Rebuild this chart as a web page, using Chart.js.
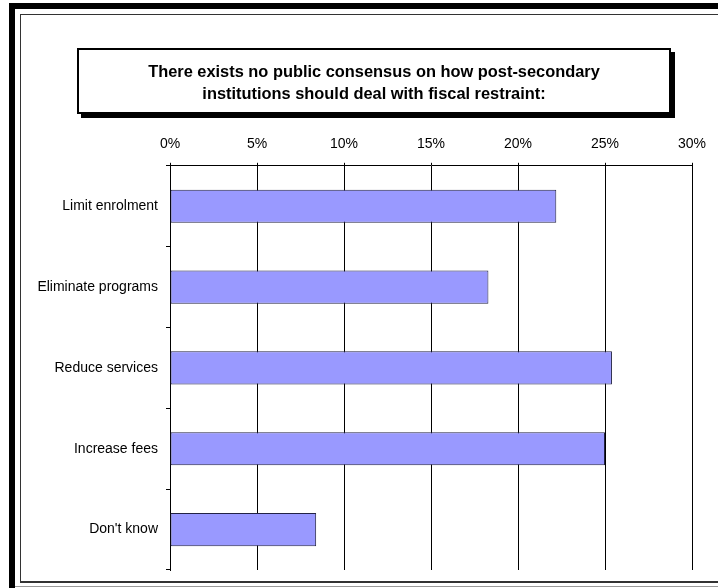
<!DOCTYPE html>
<html>
<head>
<meta charset="utf-8">
<title>Fiscal restraint survey</title>
<script src="https://cdn.jsdelivr.net/npm/chart.js"></script>
<style>
  html, body { margin:0; padding:0; background:#fff; }
  body { width:718px; height:588px; position:relative; overflow:hidden; font-family: Arial, "Liberation Sans", sans-serif; }
  #frameOuter { position:absolute; left:9px; top:3px; width:760px; height:640px; border-left:6px solid #000; border-top:6px solid #000; }
  #frameInner { position:absolute; left:20px; top:14px; width:760px; height:566px; border:1px solid #333; border-bottom-width:2px; }
  #frameShadow { position:absolute; left:15px; top:586px; width:760px; height:1px; background:#999; }
  #titleBox { position:absolute; left:77px; top:48px; width:590px; border:2px solid #000; background:#fff;
    box-shadow:4px 4px 0 #000; font-weight:bold; font-size:16.4px; line-height:22px; text-align:center; padding-top:10px; height:52px; }
  #chart { position:absolute; left:0; top:0; }
</style>
</head>
<body>
<div id="frameOuter"></div>
<div id="frameInner"></div>
<div id="frameShadow"></div>
<canvas id="chart" width="718" height="588"></canvas>
<div id="titleBox">There exists no public consensus on how post-secondary<br>institutions should deal with fiscal restraint:</div>
<script>
// survey answers, share of respondents (%)
const categories = ["Limit enrolment", "Eliminate programs", "Reduce services", "Increase fees", "Don't know"];
const shares = [22.2, 18.3, 25.4, 25.0, 8.4];
const axisMin = 0, axisMax = 30, axisStep = 5;

Chart.defaults.font.family = 'Arial, "Liberation Sans", sans-serif';
Chart.defaults.font.size = 14;
Chart.defaults.color = "#000";

const ctx = document.getElementById("chart").getContext("2d");
new Chart(ctx, {
  type: "bar",
  data: {
    labels: categories,
    datasets: [{
      data: shares,
      backgroundColor: "#9999ff",
      borderColor: "#222244",
      borderWidth: 1,
      borderSkipped: false,
      barPercentage: 0.41,
      categoryPercentage: 1
    }]
  },
  options: {
    indexAxis: "y",
    responsive: false,
    animation: false,
    devicePixelRatio: 1,
    layout: { padding: { left: 20, right: 26, top: 126, bottom: 18 } },
    plugins: { legend: { display: false }, tooltip: { enabled: false }, title: { display: false } },
    scales: {
      x: {
        position: "top",
        min: axisMin, max: axisMax,
        ticks: { stepSize: axisStep, callback: v => v + "%", padding: 10, color: "#000" },
        grid: { color: "#000", lineWidth: 1, tickLength: 3 },
        border: { display: true, color: "#000" }
      },
      y: {
        afterFit: s => { s.width = 150; },
        ticks: { padding: 8, color: "#000" },
        grid: { drawOnChartArea: false, drawTicks: true, tickLength: 4, color: "#000", offset: true },
        border: { display: true, color: "#000" }
      }
    }
  }
});
</script>
</body>
</html>
